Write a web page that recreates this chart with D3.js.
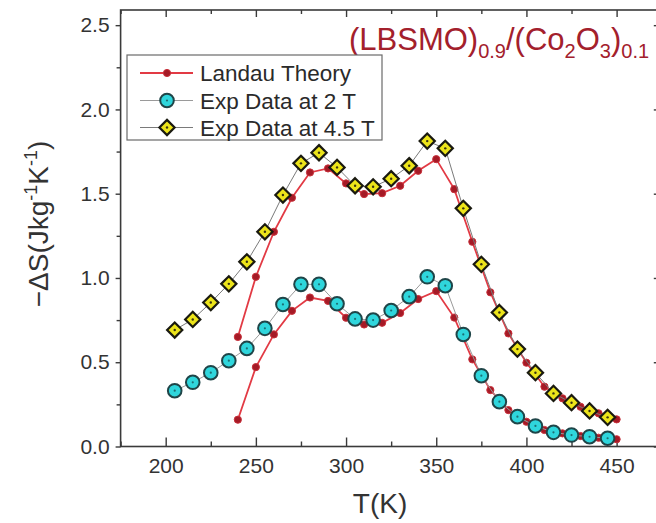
<!DOCTYPE html>
<html>
<head>
<meta charset="utf-8">
<script src="https://cdn.jsdelivr.net/npm/d3@7"></script>
<style>
  html, body { margin: 0; padding: 0; background: #fff; }
  svg { display: block; font-family: "Liberation Sans", Arial, sans-serif; }
</style>
</head>
<body>
<svg id="chart" width="656" height="523"></svg>
<script>
// Measured temperatures (K)
const expTemps = [205, 215, 225, 235, 245, 255, 265, 275, 285, 295, 305, 315, 325,
                  335, 345, 355, 365, 375, 385, 395, 405, 415, 425, 435, 445];
// -ΔS (J kg^-1 K^-1) measured at 2 T
const exp2T = [0.331, 0.381, 0.438, 0.509, 0.582, 0.701, 0.843, 0.962, 0.962, 0.847,
               0.757, 0.750, 0.807, 0.889, 1.007, 0.954, 0.665, 0.420, 0.266, 0.177,
               0.122, 0.084, 0.068, 0.058, 0.049];
// -ΔS measured at 4.5 T
const exp45T = [0.691, 0.754, 0.854, 0.965, 1.096, 1.274, 1.492, 1.680, 1.743, 1.656,
                1.547, 1.541, 1.589, 1.666, 1.812, 1.769, 1.413, 1.081, 0.795, 0.578,
                0.438, 0.315, 0.260, 0.211, 0.173];
// Landau theory temperatures (K)
const landauTemps = [240, 250, 260, 270, 280, 290, 300, 310, 320, 330, 340,
                     350, 360, 370, 380, 390, 400, 410, 420, 430, 440, 450];
// Landau model curve for 2 T
const landau2T = [0.159, 0.471, 0.665, 0.805, 0.884, 0.864, 0.764, 0.724, 0.734, 0.792, 0.875,
                  0.922, 0.765, 0.517, 0.335, 0.216, 0.147, 0.098, 0.078, 0.062, 0.052, 0.043];
// Landau model curve for 4.5 T
const landau45T = [0.650, 1.007, 1.274, 1.476, 1.626, 1.650, 1.561, 1.498, 1.503, 1.547, 1.636,
                   1.705, 1.527, 1.215, 0.915, 0.671, 0.497, 0.355, 0.286, 0.236, 0.197, 0.161];

const xTicks = [200, 250, 300, 350, 400, 450];
const xMinorTicks = [175, 225, 275, 325, 375, 425, 475];
const yTicks = [0.0, 0.5, 1.0, 1.5, 2.0, 2.5];
const yMinorTicks = [0.25, 0.75, 1.25, 1.75, 2.25];
const legendLabels = ["Landau Theory", "Exp Data at 2 T", "Exp Data at 4.5 T"];

const svg = d3.select("#chart");

const x = d3.scaleLinear().domain([175, 474.5]).range([120.6, 660.8]);
const y = d3.scaleLinear().domain([0, 2.59]).range([446.5, 10]);

const axisColor = "#3a3a3a";
const labelColor = "#333";

// frame
svg.append("rect")
  .attr("x", x(175)).attr("y", y(2.59))
  .attr("width", x(474.5) - x(175)).attr("height", y(0) - y(2.59))
  .attr("fill", "none").attr("stroke", axisColor).attr("stroke-width", 1.6);

function styleAxis(g) {
  g.select(".domain").remove();
  g.selectAll(".tick line").attr("stroke", axisColor).attr("stroke-width", 1.4);
  g.selectAll(".tick text").attr("fill", labelColor).attr("font-size", 21)
    .attr("font-family", "'Liberation Sans', Arial, sans-serif");
}

// bottom axis: inward ticks
svg.append("g").attr("transform", `translate(0,${y(0)})`)
  .call(d3.axisBottom(x).tickValues(xTicks).tickSize(-9).tickPadding(12).tickFormat(d3.format("d")))
  .call(styleAxis);
svg.append("g").attr("transform", `translate(0,${y(0)})`)
  .call(d3.axisBottom(x).tickValues(xMinorTicks).tickSize(-5).tickFormat(""))
  .call(styleAxis);

// top axis: inward ticks
svg.append("g").attr("transform", `translate(0,${y(2.59)})`)
  .call(d3.axisTop(x).tickValues(xTicks).tickSize(-7).tickFormat(""))
  .call(styleAxis);
svg.append("g").attr("transform", `translate(0,${y(2.59)})`)
  .call(d3.axisTop(x).tickValues(xMinorTicks).tickSize(-4).tickFormat(""))
  .call(styleAxis);

// left axis: outward ticks
svg.append("g").attr("transform", `translate(${x(175)},0)`)
  .call(d3.axisLeft(y).tickValues(yTicks).tickSize(5).tickPadding(6).tickFormat(d3.format(".1f")))
  .call(styleAxis);
svg.append("g").attr("transform", `translate(${x(175)},0)`)
  .call(d3.axisLeft(y).tickValues(yMinorTicks).tickSize(4).tickFormat(""))
  .call(styleAxis);

// right axis: inward ticks
svg.append("g").attr("transform", `translate(${x(474.5)},0)`)
  .call(d3.axisRight(y).tickValues(yTicks).tickSize(-7).tickFormat(""))
  .call(styleAxis);
svg.append("g").attr("transform", `translate(${x(474.5)},0)`)
  .call(d3.axisRight(y).tickValues(yMinorTicks).tickSize(-4).tickFormat(""))
  .call(styleAxis);

// axis titles
svg.append("text")
  .attr("x", 380).attr("y", 513)
  .attr("text-anchor", "middle")
  .attr("font-size", 28).attr("fill", labelColor)
  .text("T(K)");

const yTitle = svg.append("text")
  .attr("transform", "translate(48,224) rotate(-90)")
  .attr("text-anchor", "middle")
  .attr("font-size", 28).attr("fill", labelColor);
yTitle.append("tspan").text("\u2212\u0394S(Jkg");
yTitle.append("tspan").attr("dy", -11).attr("font-size", 18).text("-1");
yTitle.append("tspan").attr("dy", 11).text("K");
yTitle.append("tspan").attr("dy", -11).attr("font-size", 18).text("-1");
yTitle.append("tspan").attr("dy", 11).text(")");

// sample title
const titleColor = "#a3202c";
const title = svg.append("text")
  .attr("x", 349).attr("y", 50)
  .attr("font-size", 31).attr("fill", titleColor);
title.append("tspan").text("(LBSMO)");
title.append("tspan").attr("dy", 8).attr("font-size", 20).text("0.9");
title.append("tspan").attr("dy", -8).text("/(Co");
title.append("tspan").attr("dy", 8).attr("font-size", 20).text("2");
title.append("tspan").attr("dy", -8).text("O");
title.append("tspan").attr("dy", 8).attr("font-size", 20).text("3");
title.append("tspan").attr("dy", -8).text(")");
title.append("tspan").attr("dy", 8).attr("font-size", 20).text("0.1");

// series styles
const landauLine = "#e23a44";
const landauDotFill = "#a51a26";
const landauDotStroke = "#c8303a";
const cyanFill = "#2fd6dc";
const cyanStroke = "#1f4548";
const yellowFill = "#ece41a";
const yellowStroke = "#1a1a10";

const line = d3.line().x(d => x(d[0])).y(d => y(d[1]));

function drawLandauDot(g, cx, cy) {
  g.append("circle").attr("cx", cx).attr("cy", cy).attr("r", 3.6)
    .attr("fill", landauDotFill).attr("stroke", landauDotStroke).attr("stroke-width", 1);
}
function drawCircle(g, cx, cy) {
  g.append("circle").attr("cx", cx).attr("cy", cy).attr("r", 6.8)
    .attr("fill", cyanFill).attr("stroke", cyanStroke).attr("stroke-width", 2);
  g.append("circle").attr("cx", cx).attr("cy", cy).attr("r", 1.1).attr("fill", "#1d6f74");
}
function drawDiamond(g, cx, cy) {
  const h = 7.6;
  g.append("path")
    .attr("d", `M${cx},${cy - h}L${cx + h},${cy}L${cx},${cy + h}L${cx - h},${cy}Z`)
    .attr("fill", yellowFill).attr("stroke", yellowStroke).attr("stroke-width", 2.2)
    .attr("stroke-linejoin", "miter");
  g.append("circle").attr("cx", cx).attr("cy", cy).attr("r", 1.2).attr("fill", "#3a3410");
}

// Landau theory curves
[landau2T, landau45T].forEach(vals => {
  const pts = landauTemps.map((t, i) => [t, vals[i]]);
  svg.append("path").datum(pts).attr("d", line)
    .attr("fill", "none").attr("stroke", landauLine).attr("stroke-width", 1.8);
  const g = svg.append("g");
  pts.forEach(p => drawLandauDot(g, x(p[0]), y(p[1])));
});

// 2 T experimental data
{
  const pts = expTemps.map((t, i) => [t, exp2T[i]]);
  svg.append("path").datum(pts).attr("d", line)
    .attr("fill", "none").attr("stroke", "#9a9a9a").attr("stroke-width", 1);
  const g = svg.append("g");
  pts.forEach(p => drawCircle(g, x(p[0]), y(p[1])));
}

// 4.5 T experimental data
{
  const pts = expTemps.map((t, i) => [t, exp45T[i]]);
  svg.append("path").datum(pts).attr("d", line)
    .attr("fill", "none").attr("stroke", "#7a7a7a").attr("stroke-width", 1);
  const g = svg.append("g");
  pts.forEach(p => drawDiamond(g, x(p[0]), y(p[1])));
}

// legend
const legend = svg.append("g");
legend.append("rect")
  .attr("x", 127).attr("y", 55).attr("width", 255).attr("height", 85)
  .attr("fill", "#fff").attr("stroke", "#6a6a6a").attr("stroke-width", 1.2);
const rowY = [73, 100.5, 127.5];
const sampleLine = [landauLine, "#9a9a9a", "#7a7a7a"];
legendLabels.forEach((label, i) => {
  legend.append("line")
    .attr("x1", 140).attr("x2", 193).attr("y1", rowY[i]).attr("y2", rowY[i])
    .attr("stroke", sampleLine[i]).attr("stroke-width", i === 0 ? 1.8 : 1);
  if (i === 0) drawLandauDot(legend, 167, rowY[i]);
  if (i === 1) drawCircle(legend, 167, rowY[i]);
  if (i === 2) drawDiamond(legend, 167, rowY[i]);
  legend.append("text")
    .attr("x", 200).attr("y", rowY[i] + 8)
    .attr("font-size", 22.5).attr("fill", "#2a2a2a")
    .text(label);
});
</script>
</body>
</html>
